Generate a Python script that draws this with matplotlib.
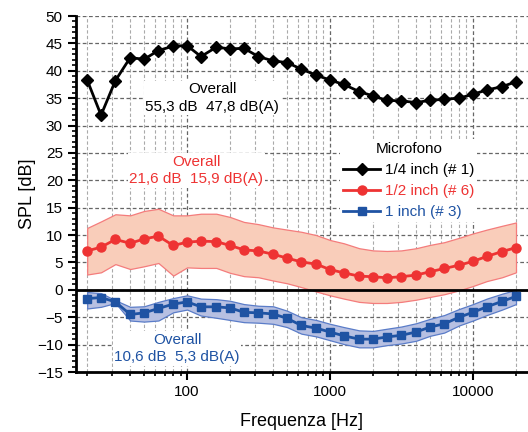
import matplotlib
matplotlib.use("Agg")
import matplotlib.pyplot as plt
from matplotlib.ticker import FixedLocator, NullFormatter, MultipleLocator
import numpy as np

plt.rcParams['font.family'] = ['Liberation Sans', 'DejaVu Sans']

freq = [20, 25, 31.5, 40, 50, 63, 80, 100, 125, 160, 200, 250, 315, 400, 500, 630, 800,
        1000, 1250, 1600, 2000, 2500, 3150, 4000, 5000, 6300, 8000, 10000, 12500, 16000, 20000]

quarter_inch = [38.3, 31.9, 38.2, 42.4, 42.1, 43.7, 44.5, 44.6, 42.6, 44.3, 44.0, 44.1, 42.6, 41.8, 41.5,
                40.3, 39.2, 38.3, 37.5, 36.2, 35.4, 34.6, 34.5, 34.2, 34.6, 34.8, 35.0, 35.7, 36.5, 37.1, 38.0]

half_inch = [7.1, 7.8, 9.2, 8.5, 9.3, 9.8, 8.1, 8.7, 8.9, 8.8, 8.1, 7.3, 7.1, 6.5, 5.8,
             5.1, 4.7, 3.7, 3.1, 2.5, 2.4, 2.2, 2.4, 2.7, 3.3, 3.9, 4.5, 5.2, 6.1, 7.0, 7.7]
half_inch_hi = [11.3, 12.5, 13.8, 13.6, 14.4, 14.8, 13.6, 13.6, 13.9, 13.9, 13.3, 12.4, 12.0, 11.4, 11.0,
                10.6, 10.0, 9.1, 8.5, 7.6, 7.2, 7.1, 7.2, 7.6, 8.2, 8.7, 9.5, 10.3, 11.0, 11.7, 12.3]
half_inch_lo = [2.8, 3.2, 4.7, 3.8, 4.3, 4.9, 2.6, 4.1, 4.0, 4.0, 3.1, 2.5, 2.3, 1.7, 1.2,
                0.5, -0.3, -1.0, -1.6, -2.2, -2.4, -2.4, -2.2, -1.8, -1.3, -0.8, -0.1, 0.7, 1.6, 2.3, 3.2]

one_inch = [-1.6, -1.4, -2.2, -4.5, -4.2, -3.4, -2.6, -2.2, -3.1, -3.1, -3.3, -4.1, -4.2, -4.4, -5.2,
            -6.5, -7.0, -7.7, -8.4, -9.0, -9.0, -8.6, -8.3, -7.7, -6.8, -6.2, -5.0, -4.1, -3.1, -2.1, -1.2]
one_inch_hi = [-0.4, -0.6, -1.9, -3.1, -3.0, -2.2, -1.5, -1.0, -1.6, -1.7, -2.0, -2.6, -2.9, -3.0, -3.8,
               -5.0, -5.5, -6.2, -6.8, -7.4, -7.5, -7.1, -6.7, -6.1, -5.3, -4.6, -3.5, -2.6, -1.6, -0.7, 0.0]
one_inch_lo = [-3.4, -3.1, -2.4, -5.6, -5.8, -5.6, -4.1, -3.6, -4.7, -5.1, -5.5, -5.9, -6.0, -6.2, -6.8,
               -8.0, -8.5, -9.2, -9.9, -10.5, -10.5, -10.1, -9.8, -9.3, -8.4, -7.8, -6.5, -5.6, -4.6, -3.6, -2.6]

labels = ["1/4 inch (# 1)", "1/2 inch (# 6)", "1 inch (# 3)"]
overall = ["Overall\n55,3 dB  47,8 dB(A)", "Overall\n21,6 dB  15,9 dB(A)", "Overall\n10,6 dB  5,3 dB(A)"]

BLACK = "#000000"
RED = "#EE3333"
BLUE = "#1F53A3"

fig = plt.figure(figsize=(5.28, 4.32), dpi=100)
ax = fig.add_axes([76/528, 60/432, (528-76)/528, (372-16)/432])

ax.set_xscale('log')
ax.set_xlim(16.7, 24270)
ax.set_ylim(-15, 50)

# grid
minor_x = [m * 10**e for e in range(1, 5) for m in range(2, 10)]
for xv in minor_x:
    ax.axvline(xv, color='#AAAAAA', lw=0.8, ls=(0, (3, 2)), zorder=0)
for xv in [100, 1000, 10000]:
    ax.axvline(xv, color='#666666', lw=0.9, ls=(0, (3, 2)), zorder=0)
for yv in range(-15, 51, 5):
    ax.axhline(yv, color='#666666', lw=0.9, ls=(0, (3, 2)), zorder=0)

# bands
ax.fill_between(freq, half_inch_lo, half_inch_hi, facecolor='#F9CDBA', edgecolor='#F47C7C', lw=0.9, zorder=1)
ax.fill_between(freq, one_inch_lo, one_inch_hi, facecolor='#B7C0E2', edgecolor='#5A7CC8', lw=0.9, zorder=1)

ax.axhline(0, color='black', lw=2, zorder=2)

l1, = ax.plot(freq, quarter_inch, color=BLACK, lw=2.0, marker='D', ms=6, label=labels[0], zorder=4)
l2, = ax.plot(freq, half_inch, color=RED, lw=2.0, marker='o', ms=6.5, label=labels[1], zorder=4)
l3, = ax.plot(freq, one_inch, color=BLUE, lw=2.0, marker='s', ms=5.8, label=labels[2], zorder=4)

bbox = dict(facecolor='white', edgecolor='none', pad=1)
ax.text(150, 35.0, overall[0], color=BLACK, fontsize=11, ha='center', va='center', linespacing=1.35, bbox=bbox, zorder=3)
ax.text(116, 21.8, overall[1], color=RED, fontsize=11, ha='center', va='center', linespacing=1.35, bbox=bbox, zorder=3)
ax.text(85, -10.7, overall[2], color=BLUE, fontsize=11, ha='center', va='center', linespacing=1.35, bbox=bbox, zorder=3)

leg = ax.legend(handles=[l1, l2, l3], title="Microfono", loc='upper left',
                bbox_to_anchor=(0.585, 0.654), borderaxespad=0, frameon=True, fontsize=11, title_fontsize=11,
                handlelength=2.4, handletextpad=0.3, borderpad=0.2, labelspacing=0.45)
leg.get_frame().set_facecolor('white')
leg.get_frame().set_edgecolor('none')
leg.get_frame().set_alpha(1)
leg.get_frame().set_boxstyle('square', pad=0)
for t, c in zip(leg.get_texts(), [BLACK, RED, BLUE]):
    t.set_color(c)
leg.set_zorder(5)

# axes styling
for s in ['top', 'right']:
    ax.spines[s].set_visible(False)
for s in ['left', 'bottom']:
    ax.spines[s].set_linewidth(2)

ax.yaxis.set_major_locator(MultipleLocator(5))
ax.yaxis.set_minor_locator(MultipleLocator(1))
ax.xaxis.set_major_locator(FixedLocator([100, 1000, 10000]))
ax.xaxis.set_minor_locator(FixedLocator(minor_x))
ax.xaxis.set_minor_formatter(NullFormatter())
ax.set_xticklabels(['100', '1000', '10000'])
ax.tick_params(axis='both', which='major', direction='out', length=6, width=1.5, labelsize=11, colors='black')
ax.tick_params(axis='both', which='minor', direction='out', length=3, width=1.2)

ax.set_xlabel("Frequenza [Hz]", fontsize=13, labelpad=10)
ax.set_ylabel("SPL [dB]", fontsize=13, labelpad=1)

fig.savefig("out.png", dpi=100)
